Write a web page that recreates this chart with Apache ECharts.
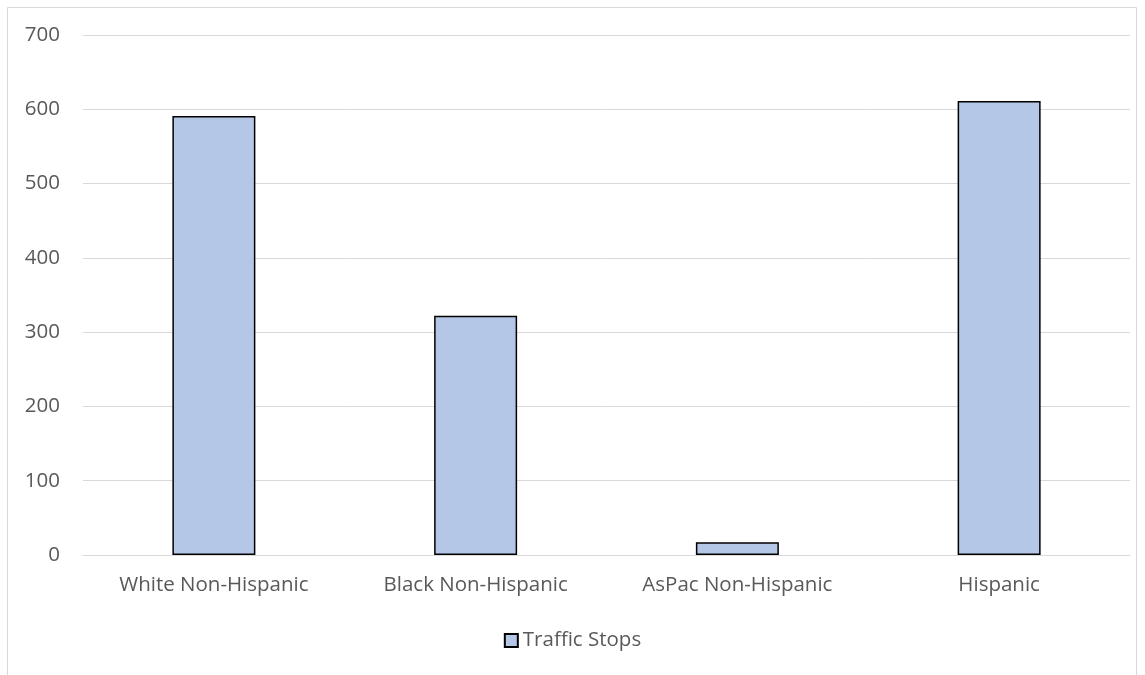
<!DOCTYPE html>
<html><head><meta charset="utf-8">
<script src="https://cdn.jsdelivr.net/npm/echarts@6/dist/echarts.min.js"></script>
<style>html,body{margin:0;padding:0;background:#fff}#c{width:1145px;height:675px}</style>
</head><body><div id="c"></div>
<script>
const categories = ["White Non-Hispanic", "Black Non-Hispanic", "AsPac Non-Hispanic", "Hispanic"];
const trafficStops = [591, 322, 17, 611];
const yTicks = [0, 100, 200, 300, 400, 500, 600, 700];

const chart = echarts.init(document.getElementById('c'), null, {renderer: 'canvas'});
const font = '"Open Sans", "Liberation Sans", sans-serif';
chart.setOption({
  animation: false,
  backgroundColor: '#fff',
  graphic: [{
    type: 'rect', silent: true,
    shape: {x: 7.5, y: 7.5, width: 1129, height: 700},
    style: {fill: 'none', stroke: '#d9d9d9', lineWidth: 1}
  }],
  grid: {left: 83, right: 15, top: 35, bottom: 120, containLabel: false},
  legend: {
    top: 625, left: 'center',
    itemWidth: 13, itemHeight: 13, itemGap: 6,
    icon: 'rect',
    textStyle: {color: '#595959', fontSize: 20.5, fontFamily: font, padding: [0, 0, 0, 0]},
    data: ['Traffic Stops']
  },
  xAxis: {
    type: 'category', data: categories,
    axisLine: {show: true, lineStyle: {color: '#d9d9d9', width: 1}},
    axisTick: {show: false},
    axisLabel: {color: '#595959', fontSize: 20.5, fontFamily: font, margin: 20}
  },
  yAxis: {
    type: 'value', min: yTicks[0], max: yTicks[yTicks.length - 1], interval: 100,
    axisLine: {show: false}, axisTick: {show: false},
    splitLine: {lineStyle: {color: '#d9d9d9', width: 1}},
    axisLabel: {color: '#595959', fontSize: 20.5, fontFamily: font, margin: 23}
  },
  series: [{
    name: 'Traffic Stops', type: 'bar', data: trafficStops,
    barWidth: 83,
    itemStyle: {color: '#b4c7e7', borderColor: '#000', borderWidth: 1.5}
  }]
});
</script></body></html>
